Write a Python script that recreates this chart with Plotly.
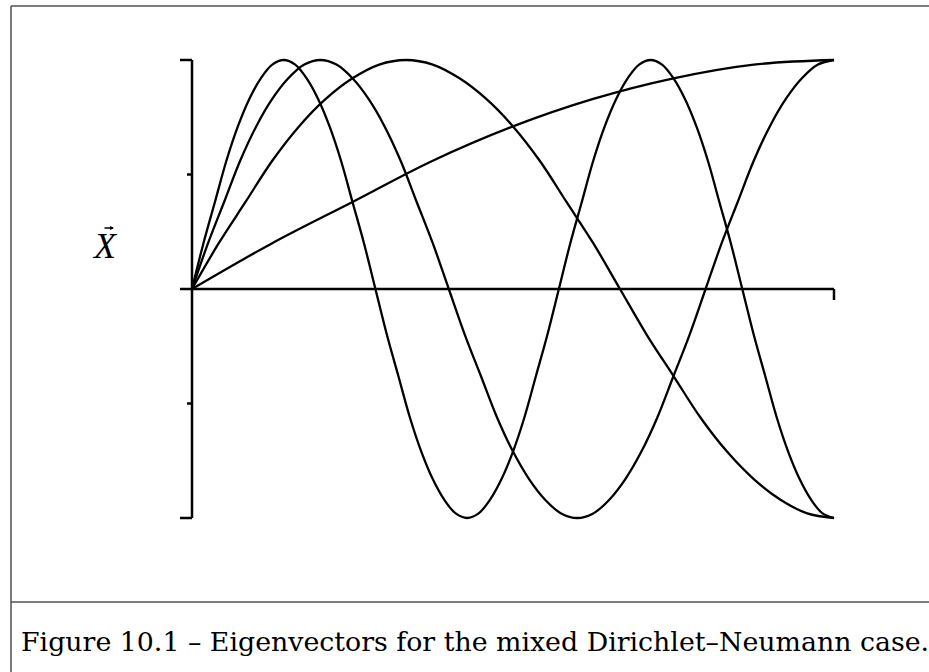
import plotly.graph_objects as go

# Eigenvectors of the mixed Dirichlet-Neumann problem, sampled on [0, 1]
x_mode1 = [k / 8 for k in range(9)]
y_mode1 = [0, 0.20, 0.38, 0.56, 0.71, 0.83, 0.92, 0.98, 1.0]

x_mode2 = [k / 24 for k in range(25)]
y_mode2 = [0, 0.20, 0.38, 0.56, 0.71, 0.83, 0.92, 0.98, 1.0, 0.98, 0.92, 0.83, 0.71, 0.56, 0.38, 0.20,
           0, -0.20, -0.38, -0.56, -0.71, -0.83, -0.92, -0.98, -1.0]

x_mode3 = [k / 40 for k in range(41)]
y_mode3 = [0, 0.20, 0.38, 0.56, 0.71, 0.83, 0.92, 0.98, 1.0, 0.98, 0.92, 0.83, 0.71, 0.56, 0.38, 0.20,
           0, -0.20, -0.38, -0.56, -0.71, -0.83, -0.92, -0.98, -1.0, -0.98, -0.92, -0.83, -0.71, -0.56, -0.38, -0.20,
           0, 0.20, 0.38, 0.56, 0.71, 0.83, 0.92, 0.98, 1.0]

x_mode4 = [k / 56 for k in range(57)]
y_mode4 = [0, 0.20, 0.38, 0.56, 0.71, 0.83, 0.92, 0.98, 1.0, 0.98, 0.92, 0.83, 0.71, 0.56, 0.38, 0.20,
           0, -0.20, -0.38, -0.56, -0.71, -0.83, -0.92, -0.98, -1.0, -0.98, -0.92, -0.83, -0.71, -0.56, -0.38, -0.20,
           0, 0.20, 0.38, 0.56, 0.71, 0.83, 0.92, 0.98, 1.0, 0.98, 0.92, 0.83, 0.71, 0.56, 0.38, 0.20,
           0, -0.20, -0.38, -0.56, -0.71, -0.83, -0.92, -0.98, -1.0]

y_ticks_major = [-1.0, 1.0]
y_ticks_minor = [-0.5, 0.5]

caption = "Figure 10.1 – Eigenvectors for the mixed Dirichlet–Neumann case."

W, H = 929, 672
# pixel placement of the data frame
PX0, PX1 = 192, 834      # x = 0 and x = 1
PY_ZERO, PX_PER_Y = 289, 229

xr = [-PX0 / (PX1 - PX0), (W - PX0) / (PX1 - PX0)]
yr = [-(H - PY_ZERO) / PX_PER_Y, PY_ZERO / PX_PER_Y]
dx = 1.0 / (PX1 - PX0)   # one pixel in x units
dy = 1.0 / PX_PER_Y      # one pixel in y units

fig = go.Figure()
for xs, ys in [(x_mode1, y_mode1), (x_mode2, y_mode2), (x_mode3, y_mode3), (x_mode4, y_mode4)]:
    fig.add_trace(go.Scatter(x=xs, y=ys, mode="lines",
                             line=dict(color="black", width=2.3, shape="spline", smoothing=1.0),
                             hoverinfo="skip", showlegend=False))

axis_line = dict(color="black", width=2.5)
shapes = [
    # vertical axis
    dict(type="line", xref="x", yref="y", x0=0, x1=0, y0=-1, y1=1, line=axis_line),
    # horizontal axis
    dict(type="line", xref="x", yref="y", x0=-12 * dx, x1=1, y0=0, y1=0, line=axis_line),
    dict(type="line", xref="x", yref="y", x0=1, x1=1, y0=0, y1=-11 * dy, line=axis_line),
]
for yt in y_ticks_major:
    shapes.append(dict(type="line", xref="x", yref="y", x0=-12 * dx, x1=0, y0=yt, y1=yt, line=axis_line))
for yt in y_ticks_minor:
    shapes.append(dict(type="line", xref="x", yref="y", x0=-5 * dx, x1=0, y0=yt, y1=yt, line=axis_line))

# page frame and caption rule
frame = dict(color="#505050", width=1.5)
shapes += [
    dict(type="line", xref="paper", yref="paper", x0=11 / W, x1=1, y0=1 - 6 / H, y1=1 - 6 / H, line=frame),
    dict(type="line", xref="paper", yref="paper", x0=11 / W, x1=11 / W, y0=0, y1=1 - 6 / H, line=frame),
    dict(type="line", xref="paper", yref="paper", x0=11 / W, x1=1, y0=1 - 602 / H, y1=1 - 602 / H, line=frame),
]

annotations = [
    # axis label: italic X with a vector arrow above it
    dict(text="<i>X</i>", xref="paper", yref="paper", x=105 / W, y=1 - 246 / H,
         xanchor="center", yanchor="middle", showarrow=False,
         font=dict(family="Liberation Serif", size=36, color="black")),
    dict(text="", xref="paper", yref="paper", x=114 / W, y=1 - 228 / H,
         showarrow=True, ax=-11, ay=0, arrowhead=2, arrowsize=0.6, arrowwidth=1.3,
         arrowcolor="black", standoff=0),
    dict(text=caption, xref="paper", yref="paper", x=19 / W, y=1 - 641 / H,
         xanchor="left", yanchor="middle", showarrow=False,
         font=dict(family="DejaVu Serif", size=26.8, color="black")),
]

fig.update_layout(
    width=W, height=H,
    margin=dict(l=0, r=0, t=0, b=0),
    paper_bgcolor="white", plot_bgcolor="white",
    xaxis=dict(range=xr, visible=False, fixedrange=True),
    yaxis=dict(range=yr, visible=False, fixedrange=True),
    shapes=shapes, annotations=annotations,
    showlegend=False,
)

fig.write_html("out.html")
